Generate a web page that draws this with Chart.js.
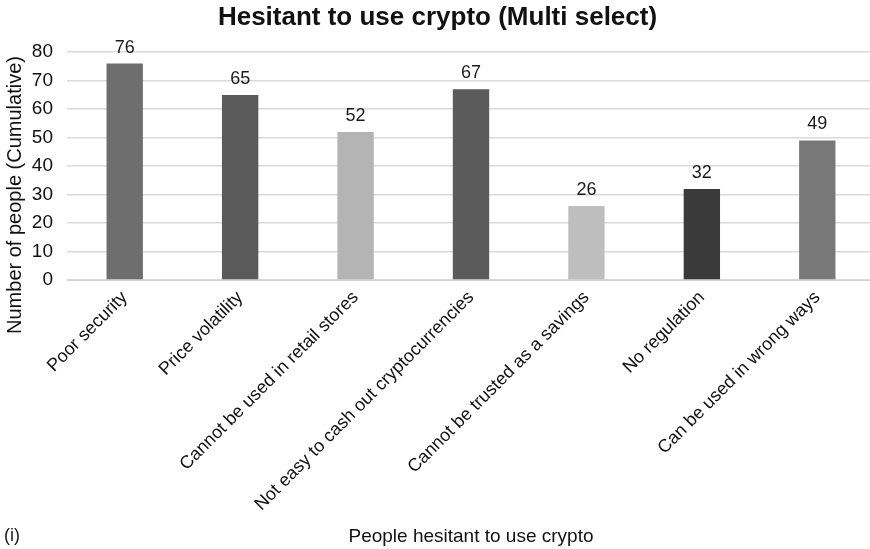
<!DOCTYPE html>
<html>
<head>
<meta charset="utf-8">
<script src="https://cdn.jsdelivr.net/npm/chart.js@4"></script>
<style>
  html, body { margin: 0; padding: 0; background: #fff; overflow: hidden; }
  #wrap { width: 875px; height: 549px; }
</style>
</head>
<body>
<div id="wrap"><canvas id="chart"></canvas></div>
<script>
// Hesitant to use crypto - data
const categories = [
  "Poor security",
  "Price volatility",
  "Cannot be used in retail stores",
  "Not easy to cash out cryptocurrencies",
  "Cannot be trusted as a savings",
  "No regulation",
  "Can be used in wrong ways"
];
const peopleCounts = [76, 65, 52, 67, 26, 32, 49];
const yTicks = [0, 10, 20, 30, 40, 50, 60, 70, 80];
const barColors = ["#6e6e6e", "#5a5a5a", "#b4b4b4", "#5b5b5b", "#bebebe", "#3a3a3a", "#787878"];

const FONT = "'Liberation Sans', Arial, sans-serif";

// draw value above each bar, the y title (sits lower than the plot centre) and the "(i)" note
const extraText = {
  id: "extraText",
  afterDatasetsDraw(chart) {
    const ctx = chart.ctx;
    const meta = chart.getDatasetMeta(0);
    ctx.save();
    ctx.font = "18px " + FONT;
    ctx.fillStyle = "#1a1a1a";
    ctx.textAlign = "center";
    ctx.textBaseline = "bottom";
    meta.data.forEach((bar, i) => {
      ctx.fillText(String(peopleCounts[i]), bar.x, bar.y - 7);
    });
    ctx.textAlign = "left";
    ctx.textBaseline = "middle";
    ctx.fillText("(i)", 4, 536);

    // y axis title
    ctx.font = "20px " + FONT;
    ctx.fillStyle = "#111";
    ctx.translate(15, 195);
    ctx.rotate(-Math.PI / 2);
    ctx.textAlign = "center";
    ctx.fillText("Number of people (Cumulative)", 0, 0);
    ctx.restore();
  }
};

new Chart(document.getElementById("chart"), {
  type: "bar",
  data: {
    labels: categories,
    datasets: [{
      data: peopleCounts,
      backgroundColor: barColors,
      borderWidth: 0,
      barPercentage: 0.63,
      categoryPercentage: 0.5
    }]
  },
  options: {
    responsive: true,
    maintainAspectRatio: false,
    animation: false,
    layout: { padding: { left: 0, right: 0, top: 0, bottom: 1 } },
    plugins: {
      legend: { display: false },
      tooltip: { enabled: false },
      title: {
        display: true,
        text: "Hesitant to use crypto (Multi select)",
        color: "#111",
        font: { family: FONT, size: 26, weight: "bold" },
        padding: { top: 2, bottom: 19 }
      }
    },
    scales: {
      x: {
        afterFit(axis) {
          axis.height = 268;
        },
        grid: { display: false, drawTicks: false },
        border: { display: true, color: "#d0d0d0" },
        ticks: {
          color: "#111",
          font: { family: FONT, size: 18 },
          minRotation: 45,
          maxRotation: 45,
          padding: 7,
          autoSkip: false
        },
        title: {
          display: true,
          text: "People hesitant to use crypto",
          color: "#111",
          font: { family: FONT, size: 19 },
          padding: { top: 0, bottom: 0 }
        }
      },
      y: {
        min: 0,
        max: 80,
        afterBuildTicks(axis) {
          axis.ticks = yTicks.map(v => ({ value: v }));
        },
        afterFit(axis) {
          axis.width = 67;
        },
        grid: { color: "#d9d9d9", lineWidth: 1.5, drawTicks: false },
        border: { display: false },
        ticks: {
          color: "#111",
          font: { family: FONT, size: 19 },
          padding: 14
        }
      }
    }
  },
  plugins: [extraText]
});
</script>
</body>
</html>
